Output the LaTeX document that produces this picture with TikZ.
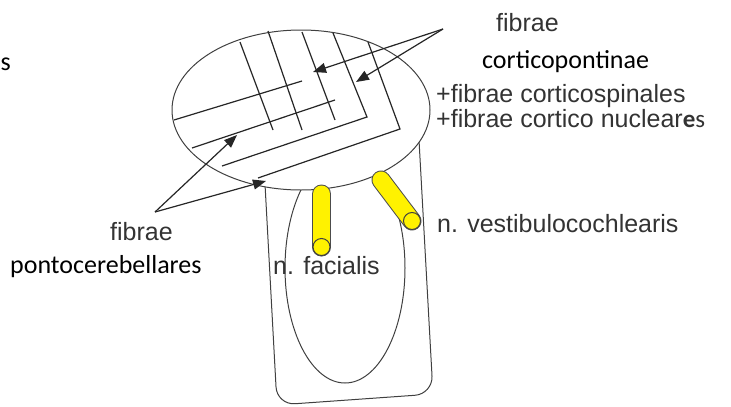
\documentclass[tikz,border=0pt]{standalone}
\usepackage{fontspec}
\setmainfont{Liberation Sans}
\newfontfamily\calibri{Carlito}
\usepackage{tikz}
\usetikzlibrary{arrows.meta}

\begin{document}
\begin{tikzpicture}[x=1pt, y=-1pt,
    % ---------- estilos ----------
    contorno/.style={draw=black!75, line width=1pt},
    fibra/.style={draw=black!85, line width=1.2pt},
    flecha/.style={-{Triangle[length=13pt, width=10pt]}, draw=black!85,
      line width=1.2pt},
    etiq/.style={anchor=base west, inner sep=0pt, text=black!80,
      font=\fontsize{25}{30}\selectfont},
    etiqc/.style={anchor=base west, inner sep=0pt, text=black,
      font=\calibri\fontsize{26}{31}\selectfont},
    nervio/.style={line width=19pt, line cap=round, draw=black!70},
    nervioin/.style={line width=17pt, line cap=round, draw=yellow}
]

\useasboundingbox (0,0) rectangle (731,407);

% ====== Tronco y oliva ======
\draw[contorno, rounded corners=18pt] (265,184) -- (277,405) -- (433,394) -- (419,140);
\draw[contorno] (345,268) ellipse [x radius=60, y radius=115];

% ====== Pie del puente ======
\draw[contorno, fill=white] (301,110) ellipse [x radius=129, y radius=80];

% fibras transversales
\draw[fibra] (174,120) -- (302,81);
\draw[fibra] (192,148) -- (335,100);
\draw[fibra] (222,166) -- (367,117) -- (333,33);
\draw[fibra] (258,178) -- (400,129) -- (368,42);

% fibras longitudinales
\foreach \xa/\ya/\xb/\yb in {240/42/273/130, 268/31/302/130, 302/32/335/120} {
    \draw[fibra] (\xa,\ya) -- (\xb,\yb);
}

% ====== Nervios ======
\coordinate (facA) at (321.5,194);
\coordinate (facB) at (321.5,247);
\coordinate (vesA) at (381,180);
\coordinate (vesB) at (412,221);
\foreach \a/\b in {facA/facB, vesA/vesB} {
    \draw[nervio] (\a) -- (\b);
    \draw[nervioin] (\a) -- (\b);
    \draw[contorno, fill=yellow] (\b) circle (8.5);
}

% ====== Flechas ======
\coordinate (cpOrigen) at (443,29);
\coordinate (cpPunta1) at (313,72);
\coordinate (cpPunta2) at (356,82);
\coordinate (pcOrigen) at (155,212);
\coordinate (pcPunta1) at (237,135);
\coordinate (pcPunta2) at (266,181);
\draw[flecha] (cpOrigen) -- (cpPunta1);
\draw[flecha] (cpOrigen) -- (cpPunta2);
\draw[flecha] (pcOrigen) -- (pcPunta1);
\draw[flecha] (pcOrigen) -- (pcPunta2);

% ====== Rotulos ======
\node[etiqc] (resto) at (0.5,70) {s};
\node[etiq] (fibCP) at (496,31) {fibrae};
\node[etiqc] (cortpont) at (482,68) {corticopontinae};
\node[etiq] (cortspin) at (436,102) {+fibrae corticospinales};
\node[etiq] (cortnuc) at (436,127) {+fibrae cortico nuclear{\calibri\bfseries e}{\calibri s}};
\node[etiq] (fibPC) at (110,240) {fibrae};
\node[etiqc] (pontcer) at (10,273) {pontocerebellares};
\node[etiq] (facial) at (273,274) {n. facialis};
\node[etiq] (vestib) at (437,232) {n. vestibulocochlearis};

\end{tikzpicture}
\end{document}
